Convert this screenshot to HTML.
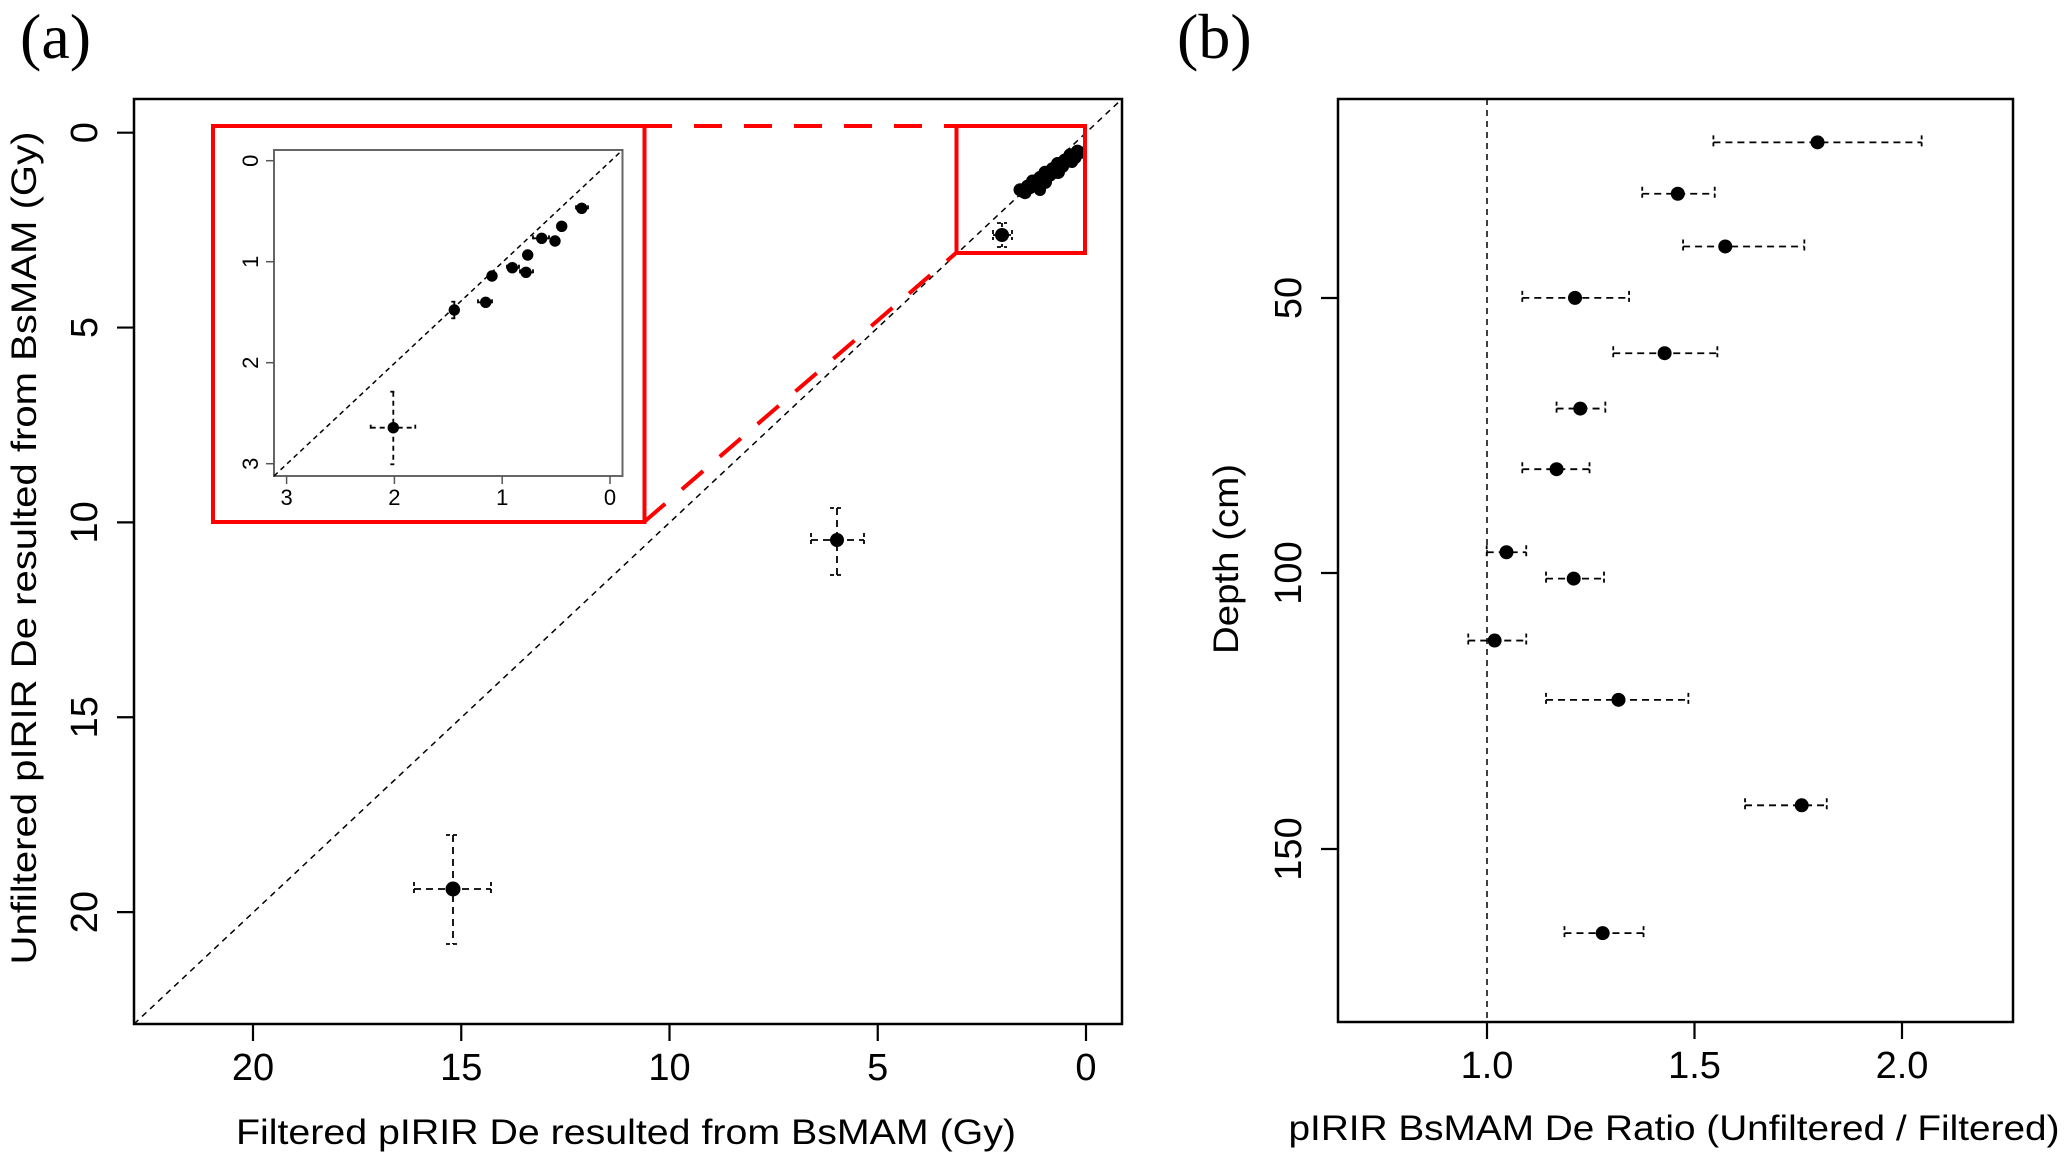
<!DOCTYPE html>
<html><head><meta charset="utf-8"><style>
html,body{margin:0;padding:0;background:#fff;}
svg{display:block;}
text{font-family:"Liberation Sans",Arial,sans-serif;fill:#000;}
</style></head><body>
<svg id="s" width="2067" height="1175" viewBox="0 0 2067 1175" xmlns="http://www.w3.org/2000/svg">
<rect width="2067" height="1175" fill="#fff"/>
<text x="20" y="58" style="font-family:'Liberation Serif',serif" font-size="64">(a)</text>
<text x="1177" y="58" style="font-family:'Liberation Serif',serif" font-size="64">(b)</text>
<rect x="134" y="99" width="988" height="925" fill="none" stroke="#000" stroke-width="2.5"/>
<line x1="134" y1="1024" x2="1122" y2="99" stroke="#000" stroke-width="1.5" stroke-dasharray="6,5"/>
<g id="ga"></g>
<rect x="213" y="126" width="431.5" height="396" fill="none" stroke="#f00" stroke-width="4"/>
<rect x="956.5" y="126" width="128.5" height="127" fill="none" stroke="#f00" stroke-width="4"/>
<line x1="644" y1="126" x2="956" y2="126" stroke="#f00" stroke-width="4" stroke-dasharray="28,22"/>
<line x1="644" y1="522" x2="956" y2="253" stroke="#f00" stroke-width="4" stroke-dasharray="28,22"/>
<rect x="274" y="150" width="348.5" height="326" fill="#fff" stroke="#666" stroke-width="2"/>
<line x1="274" y1="476" x2="622.5" y2="150" stroke="#000" stroke-width="1.5" stroke-dasharray="5,4"/>
<g id="gi"></g>
<text x="626" y="1144" font-size="35" text-anchor="middle" textLength="780" lengthAdjust="spacingAndGlyphs">Filtered pIRIR De resulted from BsMAM (Gy)</text>
<text transform="translate(36,548) rotate(-90)" font-size="35" text-anchor="middle" textLength="833" lengthAdjust="spacingAndGlyphs" x="0" y="0">Unfiltered pIRIR De resulted from BsMAM (Gy)</text>
<rect x="1338" y="99" width="675" height="923" fill="none" stroke="#000" stroke-width="2.5"/>
<line x1="1487" y1="99" x2="1487" y2="1022" stroke="#000" stroke-width="1.5" stroke-dasharray="6,5"/>
<g id="gb"></g>
<text x="1674" y="1140" font-size="35" text-anchor="middle" textLength="771" lengthAdjust="spacingAndGlyphs">pIRIR BsMAM De Ratio (Unfiltered / Filtered)</text>
<text transform="translate(1238,559) rotate(-90)" font-size="35" text-anchor="middle" textLength="190" lengthAdjust="spacingAndGlyphs">Depth (cm)</text>
</svg>
<script>
var NS="http://www.w3.org/2000/svg";
function el(g,t,a,txt){var e=document.createElementNS(NS,t);for(var k in a)e.setAttribute(k,a[k]);if(txt!==undefined)e.textContent=txt;document.getElementById(g).appendChild(e);return e;}
function line(g,x1,y1,x2,y2,w,d,c){var a={x1:x1,y1:y1,x2:x2,y2:y2,stroke:c||"#000","stroke-width":w||2};if(d)a["stroke-dasharray"]=d;el(g,"line",a);}
function dot(g,x,y,r){el(g,"circle",{cx:x,cy:y,r:r,fill:"#000"});}
function hbar(g,y,x1,x2,cap,d){line(g,x1,y,x2,y,1.8,d);line(g,x1,y-cap,x1,y+cap,1.8,"4,3");line(g,x2,y-cap,x2,y+cap,1.8,"4,3");}
function vbar(g,x,y1,y2,cap,d){line(g,x,y1,x,y2,1.8,d);line(g,x-cap,y1,x+cap,y1,1.8,"4,3");line(g,x-cap,y2,x+cap,y2,1.8,"4,3");}
var ax=function(v){return 1086-41.65*v;}, ay=function(v){return 132.7+38.97*v;};
[0,5,10,15,20].forEach(function(v){
 var x=ax(v);line("ga",x,1024,x,1041,2.2);
 el("ga","text",{x:x,y:1080,"font-size":38,"text-anchor":"middle"},String(v));
 var y=ay(v);line("ga",117,y,134,y,2.2);
 el("ga","text",{transform:"translate(97,"+y+") rotate(-90)","font-size":38,"text-anchor":"middle"},String(v));
});
hbar("ga",540,811,864,7,"7,5");vbar("ga",837,508,575,7,"7,5");dot("ga",837,540,7);
hbar("ga",889,414,491,7,"7,5");vbar("ga",453,835,944,7,"7,5");dot("ga",453,889,7.5);
hbar("ga",235,993,1012,5,"4,3");vbar("ga",1002,223,247,5,"4,3");dot("ga",1002,235,7);
for(var i=0;i<=24;i++){var t=i/24;var x=1020+t*60,y=193-t*42+((i*7)%5-2)*1.6;dot("ga",x,y,6.5);}
dot("ga",1030,188,6);dot("ga",1045,182,7);dot("ga",1058,172,7);dot("ga",1072,162,6);dot("ga",1040,190,6);
var ix=function(v){return 610-107.8*v;}, iy=function(v){return 160.7+101*v;};
[0,1,2,3].forEach(function(v){
 var x=ix(v);line("gi",x,476,x,484,1.5,null,"#555");
 el("gi","text",{x:x,y:505,"font-size":22,"text-anchor":"middle"},String(v));
 var y=iy(v);line("gi",266,y,274,y,1.5,null,"#555");
 el("gi","text",{transform:"translate(258,"+y+") rotate(-90)","font-size":22,"text-anchor":"middle"},String(v));
});
hbar("gi",427.7,370.7,415.3,3,"5,4");vbar("gi",393.3,391.7,464.3,3,"5,4");dot("gi",393.3,427.7,5.7);
vbar("gi",454.3,301.7,318.3,3,null);dot("gi",454.3,310,5.7);
hbar("gi",302.3,478,492,3,null);dot("gi",485.7,302.3,5.7);
dot("gi",492,276,5.7);
hbar("gi",267.7,507,519,3,null);dot("gi",512.3,267.7,5.7);
hbar("gi",272.3,520,533,3,null);dot("gi",526,272.3,5.7);
dot("gi",527.7,255,5.7);
hbar("gi",238.3,533,549,3,"4,3");dot("gi",541.7,238.3,5.7);
dot("gi",555,241,5.7);dot("gi",561.7,226.3,5.7);
hbar("gi",208.3,576,588,3,null);dot("gi",581.7,208.3,5.7);
var K=1.318;
[[1.0,1487],[1.5,1694.5],[2.0,1902]].forEach(function(p){
 line("gb",p[1],1022,p[1],1039,2.2);
 el("gb","text",{x:p[1],y:1078,"font-size":38,"text-anchor":"middle"},p[0].toFixed(1));
});
[[50,298],[100,573],[150,849]].forEach(function(p){
 line("gb",1321,p[1],1338,p[1],2.2);
 el("gb","text",{transform:"translate(1301,"+p[1]+") rotate(-90)","font-size":38,"text-anchor":"middle"},String(p[0]));
});
var pts=[[1379,108,1300,1458],[1273,147,1246,1301],[1309,187,1277,1369],[1195,226,1155,1236],[1263,268,1224,1303],[1199,310,1181,1218],[1181,356,1155,1206],[1143,419,1128,1158],[1194,439,1173,1217],[1134,486,1114,1158],[1228,531,1173,1281],[1367,611,1324,1386],[1216,708,1187,1247]];
pts.forEach(function(p){var y=p[1]*K;hbar("gb",y,p[2]*K,p[3]*K,7,"7,5");dot("gb",p[0]*K,y,7);});
</script>
</body></html>
